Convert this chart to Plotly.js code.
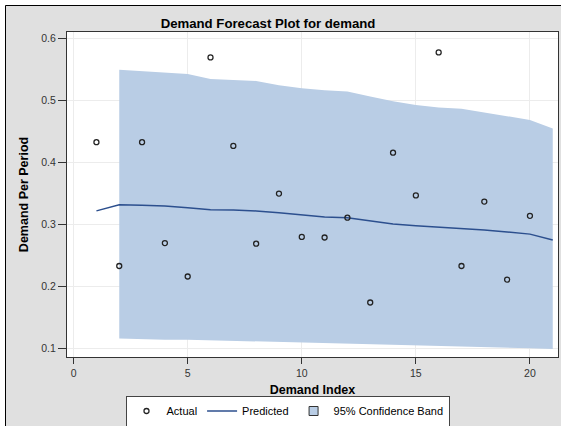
<!DOCTYPE html>
<html>
<head>
<meta charset="utf-8">
<script src="https://cdn.plot.ly/plotly-3.0.1.min.js"></script>
<style>
  html, body { margin: 0; padding: 0; background: #ffffff; }
  #chart { width: 561px; height: 426px; }
</style>
</head>
<body>
<div id="chart"></div>
<script>
// ---- Data ----
const actualX = [1, 2, 3, 4, 5, 6, 7, 8, 9, 10, 11, 12, 13, 14, 15, 16, 17, 18, 19, 20];
const actualY = [0.433, 0.233, 0.433, 0.270, 0.216, 0.570, 0.427, 0.269, 0.350, 0.280,
                 0.279, 0.311, 0.174, 0.416, 0.347, 0.578, 0.233, 0.337, 0.211, 0.314];

const predX = [1, 2, 3, 4, 5, 6, 7, 8, 9, 10, 11, 12, 13, 14, 15, 16, 17, 18, 19, 20, 21];
const predY = [0.322, 0.332, 0.331, 0.330, 0.327, 0.324, 0.3235, 0.322, 0.319, 0.316, 0.312,
               0.311, 0.3065, 0.301, 0.298, 0.296, 0.294, 0.291, 0.288, 0.2845, 0.275];

const bandX = [2, 3, 4, 5, 6, 7, 8, 9, 10, 11, 12, 13, 14, 15, 16, 17, 18, 19, 20, 21];
const bandUpper = [0.550, 0.548, 0.545, 0.543, 0.535, 0.534, 0.532, 0.525, 0.520, 0.517,
                   0.515, 0.507, 0.499, 0.493, 0.489, 0.487, 0.481, 0.476, 0.469, 0.455];
const bandLower = [0.116, 0.115, 0.114, 0.114, 0.113, 0.112, 0.111, 0.111, 0.110, 0.109,
                   0.108, 0.107, 0.106, 0.105, 0.104, 0.103, 0.102, 0.101, 0.100, 0.099];

const xTicks = [0, 5, 10, 15, 20];
const yTicks = [0.1, 0.2, 0.3, 0.4, 0.5, 0.6];

const titleText = "Demand Forecast Plot for demand";
const xTitle = "Demand Index";
const yTitle = "Demand Per Period";
const names = ["Actual", "Predicted", "95% Confidence Band"];

// ---- Styling ----
const BAND = "#b9cde5";
const LINE = "#2c4f8e";
const GRAY = "#e0e0e0";
const FONT = "Liberation Sans, Arial, sans-serif";

const bandPolyX = bandX.concat(bandX.slice().reverse());
const bandPolyY = bandUpper.concat(bandLower.slice().reverse());

const traces = [
  {
    x: bandPolyX, y: bandPolyY, type: "scatter", mode: "lines",
    fill: "toself", fillcolor: BAND, line: { width: 0, color: BAND },
    showlegend: false, hoverinfo: "skip"
  },
  {
    x: predX, y: predY, type: "scatter", mode: "lines", name: names[1],
    line: { color: LINE, width: 1.5 }, legendrank: 2
  },
  {
    x: actualX, y: actualY, type: "scatter", mode: "markers", name: names[0],
    marker: { symbol: "circle-open", size: 5, color: "#222222", line: { width: 1.3 } },
    legendrank: 1
  },
  {
    x: [null], y: [null], type: "scatter", mode: "markers", name: names[2],
    marker: { symbol: "square", size: 9, color: BAND, line: { color: "#333333", width: 1 } },
    legendrank: 3
  }
];

const L = 67, R = 3, T = 32, B = 69;
const W = 561, H = 426;
const pw = W - L - R, ph = H - T - B;
const px = v => (v - L) / pw;
const py = v => (H - B - v) / ph;

const layout = {
  width: W, height: H,
  margin: { l: L, r: R, t: T, b: B, pad: 0, autoexpand: false },
  paper_bgcolor: GRAY,
  plot_bgcolor: "#ffffff",
  font: { family: FONT, size: 10.5, color: "#333333" },
  title: {
    text: "<b>" + titleText + "</b>",
    font: { family: FONT, size: 13.2, color: "#000000" },
    x: 268 / W, xref: "container", xanchor: "center",
    y: 1 - 23 / H, yref: "container", yanchor: "middle"
  },
  xaxis: {
    range: [-0.29, 21.23],
    tickvals: xTicks, ticktext: xTicks.map(String),
    ticks: "outside", ticklen: 6, tickcolor: "#333333", tickwidth: 1,
    showline: true, linecolor: "#333333", linewidth: 1, mirror: true,
    showgrid: true, gridcolor: "#ececec", gridwidth: 1,
    zeroline: false,
    tickfont: { family: FONT, size: 10.5, color: "#333333" },
    title: { text: "<b>" + xTitle + "</b>", font: { family: FONT, size: 12.5, color: "#000000" }, standoff: 7 }
  },
  yaxis: {
    range: [0.086, 0.611],
    tickvals: yTicks, ticktext: yTicks.map(v => v.toFixed(1)),
    ticks: "outside", ticklen: 8, tickcolor: "#333333", tickwidth: 1,
    showline: true, linecolor: "#333333", linewidth: 1, mirror: true,
    showgrid: true, gridcolor: "#ececec", gridwidth: 1,
    zeroline: false,
    tickfont: { family: FONT, size: 10.5, color: "#333333" },
    title: { text: "<b>" + yTitle + "</b>", font: { family: FONT, size: 12.5, color: "#000000" }, standoff: 9 }
  },
  showlegend: true,
  legend: {
    orientation: "h",
    x: px(287.5), xanchor: "center",
    y: py(411), yanchor: "middle",
    bgcolor: "#ffffff", bordercolor: "#444444", borderwidth: 1,
    font: { family: FONT, size: 11, color: "#000000" },
    itemsizing: "trace"
  },
  shapes: [
    { type: "rect", xref: "paper", yref: "paper", x0: px(-5), x1: px(5), y0: py(430), y1: py(-5),
      fillcolor: "#ffffff", line: { width: 0 }, layer: "above" },
    { type: "rect", xref: "paper", yref: "paper", x0: px(-5), x1: px(566), y0: py(5), y1: py(-5),
      fillcolor: "#ffffff", line: { width: 0 }, layer: "above" },
    { type: "line", xref: "paper", yref: "paper", x0: px(5.5), x1: px(5.5), y0: py(5.5), y1: py(430),
      line: { color: "#000000", width: 1 }, layer: "above" },
    { type: "line", xref: "paper", yref: "paper", x0: px(5.5), x1: px(566), y0: py(5.5), y1: py(5.5),
      line: { color: "#000000", width: 1 }, layer: "above" }
  ]
};

Plotly.newPlot("chart", traces, layout, { displayModeBar: false, staticPlot: true });
</script>
</body>
</html>
